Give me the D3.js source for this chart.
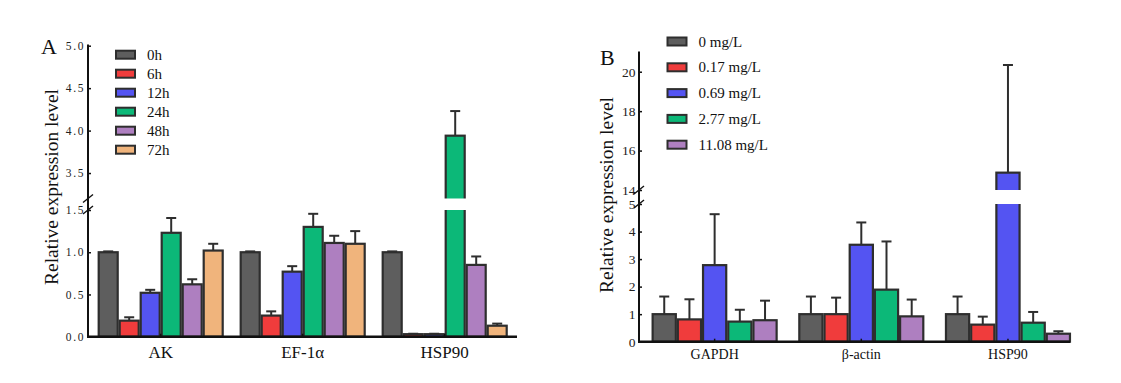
<!DOCTYPE html>
<html><head><meta charset="utf-8">
<script src="https://cdn.jsdelivr.net/npm/d3@7"></script>
</head><body style="margin:0;background:#fff">
<svg id="c" width="1121" height="383" style="display:block"></svg>
<script>
// ---------- Panel A data ----------
const groupsA = ["AK", "EF-1α", "HSP90"];
const seriesA = ["0h", "6h", "12h", "24h", "48h", "72h"];
const colorsA = ["#5e5e5e", "#f03c3c", "#5454f2", "#0cb878", "#ae7fc0", "#f0b47c"];
const meansA = [
  [1.00, 1.00, 1.00],
  [0.19, 0.25, 0.03],
  [0.52, 0.77, 0.03],
  [1.23, 1.30, 3.94],
  [0.62, 1.11, 0.85],
  [1.02, 1.10, 0.13]
];
const errsA = [
  [0.01, 0.01, 0.01],
  [0.04, 0.05, 0.005],
  [0.035, 0.065, 0.005],
  [0.175, 0.155, 0.29],
  [0.06, 0.085, 0.10],
  [0.08, 0.15, 0.025]
];
const ticksLowA = [0, 0.5, 1.0, 1.5];
const ticksUpA = [3.5, 4.0, 4.5, 5.0];

// ---------- Panel B data ----------
const groupsB = ["GAPDH", "β-actin", "HSP90"];
const seriesB = ["0 mg/L", "0.17 mg/L", "0.69 mg/L", "2.77 mg/L", "11.08 mg/L"];
const colorsB = ["#5e5e5e", "#f03c3c", "#5454f2", "#0cb878", "#ae7fc0"];
const meansB = [
  [1.00, 1.00, 1.00],
  [0.81, 1.00, 0.62],
  [2.78, 3.52, 14.88],
  [0.73, 1.89, 0.69],
  [0.78, 0.92, 0.29]
];
const errsB = [
  [0.64, 0.64, 0.64],
  [0.73, 0.60, 0.29],
  [1.85, 0.81, 5.46],
  [0.43, 1.75, 0.39],
  [0.71, 0.61, 0.09]
];
const ticksLowB = [0, 1, 2, 3, 4, 5];
const ticksUpB = [14, 16, 18, 20];

const svg = d3.select("#c");
const stroke = "#2e2e2e";

function txt(sel, fs) {
  return sel.attr("font-family", "Liberation Serif")
    .style("font-family", '"Liberation Serif"')
    .style("font-size", fs + "px").style("fill", "#111");
}

function panel(cfg) {
  const g = svg.append("g");
  const low = d3.scaleLinear().domain(cfg.lowDom).range(cfg.lowRange);
  const up = d3.scaleLinear().domain(cfg.upDom).range(cfg.upRange);
  const x0 = d3.scaleBand().domain(cfg.groups).range(cfg.xRange);
  const x1 = d3.scaleBand().domain(cfg.series).range([-cfg.groupW / 2, cfg.groupW / 2]);
  const y = v => v <= cfg.lowDom[1] ? low(v) : up(v);

  cfg.series.forEach((s, si) => {
    cfg.groups.forEach((gr, gi) => {
      const m = cfg.means[si][gi], e = cfg.errs[si][gi];
      const bx = x0(gr) + x0.bandwidth() / 2 + x1(s);
      const bw = x1.bandwidth();
      const et = m + e;
      g.append("line").attr("x1", bx + bw / 2).attr("x2", bx + bw / 2)
        .attr("y1", y(m)).attr("y2", y(et)).attr("stroke", stroke).attr("stroke-width", 2);
      g.append("line").attr("x1", bx + bw / 2 - cfg.cap).attr("x2", bx + bw / 2 + cfg.cap)
        .attr("y1", y(et)).attr("y2", y(et)).attr("stroke", stroke).attr("stroke-width", 2);
      g.append("rect").attr("x", bx + 1).attr("width", bw - 2)
        .attr("y", y(m)).attr("height", low(0) - y(m))
        .attr("fill", cfg.colors[si]).attr("stroke", stroke).attr("stroke-width", 2.2);
      if (m > cfg.lowDom[1]) {
        g.append("rect").attr("x", bx - 2).attr("width", bw + 4)
          .attr("y", up(cfg.upDom[0])).attr("height", low(cfg.lowDom[1]) - up(cfg.upDom[0]))
          .attr("fill", "#fff");
      }
    });
  });

  const axL = d3.axisLeft(low).tickValues(cfg.ticksLow).tickFormat(cfg.fmt).tickSize(-3).tickPadding(cfg.tickPad);
  const axU = d3.axisLeft(up).tickValues(cfg.ticksUp).tickFormat(cfg.fmt).tickSize(-3).tickPadding(cfg.tickPad);
  [axL, axU].forEach(ax => {
    const a = g.append("g").attr("transform", `translate(${cfg.axisX},0)`).call(ax);
    a.attr("font-family", "Liberation Serif").attr("font-size", cfg.tickFs);
    a.select(".domain").remove();
    a.selectAll("line").attr("stroke", "#111").attr("stroke-width", 1.5);
    txt(a.selectAll("text"), cfg.tickFs).style("fill", "#222").style("letter-spacing", cfg.tickLs + "px");
  });
  g.append("line").attr("x1", cfg.axisX).attr("x2", cfg.axisX)
    .attr("y1", cfg.axisTop).attr("y2", low(0) + 1).attr("stroke", "#111").attr("stroke-width", 2);
  [up(cfg.upDom[0]), low(cfg.lowDom[1])].forEach(by => {
    g.append("line").attr("x1", cfg.axisX - 5).attr("x2", cfg.axisX + 5)
      .attr("y1", by + 4).attr("y2", by - 4).attr("stroke", "#111").attr("stroke-width", 1.5);
  });
  const axX = d3.axisBottom(x0).tickSize(-3).tickFormat("");
  const ax = g.append("g").attr("transform", `translate(0,${low(0)})`).call(axX);
  ax.select(".domain").remove();
  ax.selectAll("line").attr("stroke", "#111").attr("stroke-width", 1.5);
  g.append("line").attr("x1", cfg.axisX - 1).attr("x2", cfg.xEnd)
    .attr("y1", low(0)).attr("y2", low(0)).attr("stroke", "#111").attr("stroke-width", 2.5);
  cfg.groups.forEach(gr => {
    txt(g.append("text"), cfg.catFs).attr("x", x0(gr) + x0.bandwidth() / 2).attr("y", low(0) + cfg.catDy)
      .attr("text-anchor", "middle").text(gr);
  });
  txt(g.append("text"), cfg.ylabFs).attr("transform", `translate(${cfg.ylabX},${cfg.ylabY}) rotate(-90)`)
    .attr("text-anchor", "middle").text("Relative expression level");
  txt(g.append("text"), 22).attr("x", cfg.letterX).attr("y", cfg.letterY).text(cfg.letter);
  cfg.series.forEach((s, i) => {
    const ly = cfg.legY + i * cfg.legDy;
    g.append("rect").attr("x", cfg.legX).attr("y", ly - 4).attr("width", 19).attr("height", 8)
      .attr("fill", cfg.colors[i]).attr("stroke", stroke).attr("stroke-width", 2);
    txt(g.append("text"), cfg.legFs).attr("x", cfg.legX + 31).attr("y", ly + 5).text(s);
  });
}

panel({
  groups: groupsA, series: seriesA, colors: colorsA, means: meansA, errs: errsA,
  lowDom: [0, 1.5], lowRange: [336.7, 210], upDom: [3.2, 5.0], upRange: [198.5, 45.7],
  ticksLow: ticksLowA, ticksUp: ticksUpA, fmt: d3.format(".1f"),
  xRange: [89.7, 515.7], groupW: 126, xEnd: 517, axisX: 88, axisTop: 44.5, cap: 5,
  tickFs: 11.5, tickLs: 1.6, tickPad: 3, catFs: 17, catDy: 21, ylabX: 58, ylabY: 187, ylabFs: 19.5,
  letter: "A", letterX: 41, letterY: 54,
  legX: 116, legY: 54.7, legDy: 19, legFs: 15
});
panel({
  groups: groupsB, series: seriesB, colors: colorsB, means: meansB, errs: errsB,
  lowDom: [0, 5], lowRange: [341.7, 204], upDom: [14, 21], upRange: [190, 52],
  ticksLow: ticksLowB, ticksUp: ticksUpB, fmt: d3.format("d"),
  xRange: [641.3, 1081.3], groupW: 126, xEnd: 1070, axisX: 639, axisTop: 51.5, cap: 5,
  tickFs: 13.5, tickLs: 0, tickPad: 3.5, catFs: 14, catDy: 17, ylabX: 613, ylabY: 195, ylabFs: 19.5,
  letter: "B", letterX: 600, letterY: 65,
  legX: 667.5, legY: 41.5, legDy: 25.8, legFs: 15
});
</script></body></html>
